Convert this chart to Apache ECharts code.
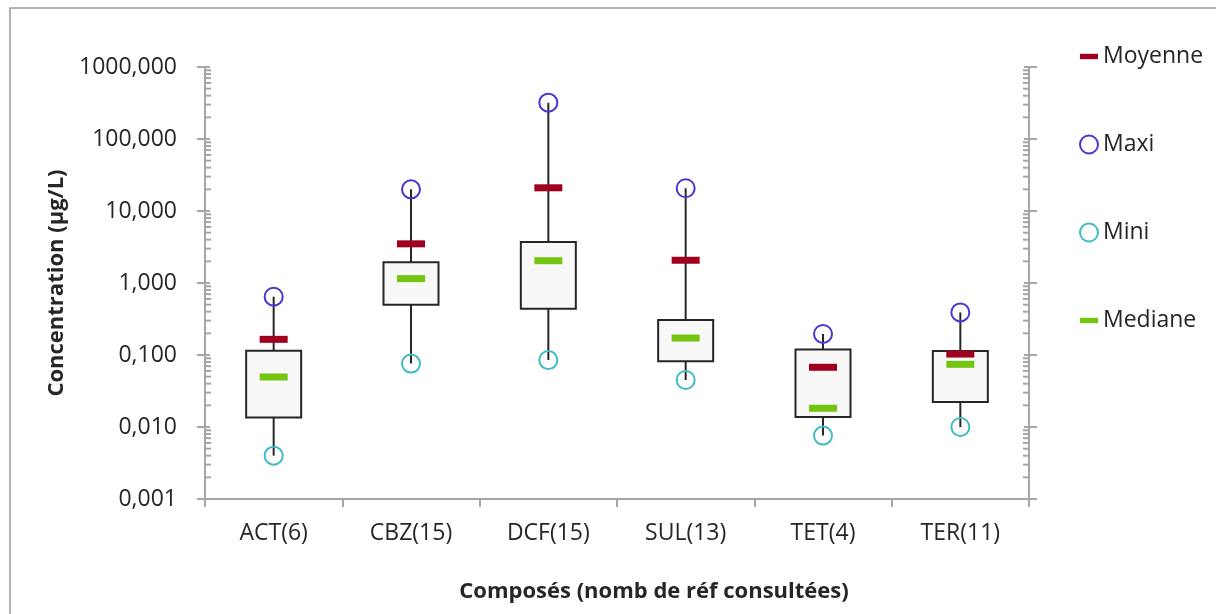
<!DOCTYPE html>
<html>
<head>
<meta charset="utf-8">
<script src="https://cdn.jsdelivr.net/npm/echarts@6/dist/echarts.min.js"></script>
<style>
html,body{margin:0;padding:0;background:#fff;}
#chart{width:1216px;height:614px;}
</style>
</head>
<body>
<div id="chart"></div>
<script>
// ---- data (µg/L) ----
var categories = ['ACT(6)', 'CBZ(15)', 'DCF(15)', 'SUL(13)', 'TET(4)', 'TER(11)'];
var maxi    = [0.645, 20,   320,  20.7,  0.196,  0.39];
var q3      = [0.115, 1.94, 3.71, 0.306, 0.119,  0.114];
var moyenne = [0.165, 3.5,  21,   2.07,  0.0675, 0.103];
var mediane = [0.0495,1.15, 2.04, 0.172, 0.0182, 0.0742];
var q1      = [0.0136,0.50, 0.44, 0.0817,0.0138, 0.0222];
var mini    = [0.0040,0.076,0.085,0.045, 0.0076, 0.0100];
// log axis minor tick multipliers and decades
var minorMultipliers = [2, 3, 4, 5, 6, 7, 8, 9];
var decades = [0.001, 0.01, 0.1, 1, 10, 100];
var majorTicks = [0.001, 0.01, 0.1, 1, 10, 100, 1000];

var FONT = '"Open Sans", "Noto Sans", sans-serif';
var AXIS_GREY = '#a6a6a6';
var TXT = '#262626';

var boxData = categories.map(function (c, i) { return [i, mini[i], q1[i], q3[i], maxi[i]]; });
var tickData = [];
decades.forEach(function (d) { minorMultipliers.forEach(function (m) { tickData.push([0, d * m, 0]); }); });
majorTicks.forEach(function (v) { tickData.push([0, v, 1]); });

function fmt(v) { return Number(v).toFixed(3).replace('.', ','); }

var chart = echarts.init(document.getElementById('chart'), null, {renderer: 'canvas'});
chart.setOption({
  animation: false,
  backgroundColor: '#fff',
  textStyle: {fontFamily: FONT},
  graphic: [{
    type: 'rect', silent: true, z: -1,
    shape: {x: 10, y: 8, width: 1400, height: 800},
    style: {fill: 'none', stroke: '#9a9a9a', lineWidth: 1.5}
  }],
  grid: {left: 205, right: 187, top: 67, bottom: 115},
  legend: {
    orient: 'vertical', left: 1074, top: 40,
    itemWidth: 18, itemHeight: 18, itemGap: 65,
    textStyle: {fontSize: 23, color: TXT, fontFamily: FONT},
    selectedMode: false,
    data: [
      {name: 'Moyenne', icon: 'path://M0,0h20v6h-20z', itemStyle: {color: '#a00020', borderWidth: 0, opacity: 1}},
      {name: 'Maxi', icon: 'circle', itemStyle: {color: 'rgba(0,0,0,0)', borderColor: '#4b35d3', borderWidth: 2, opacity: 1}},
      {name: 'Mini', icon: 'circle', itemStyle: {color: 'rgba(0,0,0,0)', borderColor: '#3dbcc4', borderWidth: 2, opacity: 1}},
      {name: 'Mediane', icon: 'path://M0,0h20v6h-20z', itemStyle: {color: '#74c512', borderWidth: 0, opacity: 1}}
    ]
  },
  xAxis: {
    type: 'category', data: categories, boundaryGap: true,
    axisLine: {lineStyle: {color: AXIS_GREY, width: 2}},
    axisTick: {show: true, length: 8, alignWithLabel: false, lineStyle: {color: AXIS_GREY, width: 2}},
    axisLabel: {fontSize: 23, color: TXT, margin: 23, fontFamily: FONT},
    name: 'Composés (nomb de réf consultées)', nameLocation: 'middle', nameGap: 82,
    nameTextStyle: {fontSize: 22, fontWeight: 'bold', color: TXT, fontFamily: FONT, padding: [0, 0, 0, 74]},
    splitLine: {show: false}
  },
  yAxis: [{
    type: 'log', logBase: 10, min: 0.001, max: 1000, position: 'left',
    axisLine: {show: true, lineStyle: {color: AXIS_GREY, width: 2}},
    axisTick: {show: true, length: 8, lineStyle: {color: AXIS_GREY, width: 2}},
    axisLabel: {fontSize: 23, color: TXT, margin: 28, formatter: fmt, fontFamily: FONT},
    splitLine: {show: false},
    name: 'Concentration (µg/L)', nameLocation: 'middle', nameGap: 136, nameRotate: 90,
    nameTextStyle: {fontSize: 22, fontWeight: 'bold', color: TXT, fontFamily: FONT}
  }, {
    type: 'log', logBase: 10, min: 0.001, max: 1000, position: 'right',
    axisLine: {show: true, lineStyle: {color: AXIS_GREY, width: 2}},
    axisTick: {show: true, length: 8, lineStyle: {color: AXIS_GREY, width: 2}},
    axisLabel: {show: false},
    splitLine: {show: false}
  }],
  series: [
    {
      name: 'ticks', type: 'custom', silent: true, z: 1,
      data: tickData, encode: {x: 0, y: 1},
      renderItem: function (params, api) {
        var cs = params.coordSys;
        var y = api.coord([0, api.value(1)])[1];
        var major = api.value(2) === 1;
        var len = major ? 5 : 6;
        var style = {stroke: AXIS_GREY, lineWidth: 2};
        return {type: 'group', children: [
          {type: 'line', shape: {x1: cs.x, y1: y, x2: cs.x + len, y2: y}, style: style},
          {type: 'line', shape: {x1: cs.x + cs.width - len, y1: y, x2: cs.x + cs.width, y2: y}, style: style}
        ]};
      }
    },
    {
      name: 'box', type: 'custom', silent: true, z: 2,
      data: boxData, encode: {x: 0, y: [1, 2, 3, 4]},
      renderItem: function (params, api) {
        var i = api.value(0);
        var pMin = api.coord([i, api.value(1)]);
        var pQ1 = api.coord([i, api.value(2)]);
        var pQ3 = api.coord([i, api.value(3)]);
        var pMax = api.coord([i, api.value(4)]);
        var w = 55;
        var line = {stroke: '#262626', lineWidth: 2};
        return {type: 'group', children: [
          {type: 'line', shape: {x1: pMin[0], y1: pMin[1], x2: pMax[0], y2: pMax[1]}, style: line},
          {type: 'rect', shape: {x: pQ3[0] - w / 2, y: pQ3[1], width: w, height: pQ1[1] - pQ3[1]},
           style: {fill: '#f8f8f8', stroke: '#262626', lineWidth: 2}}
        ]};
      }
    },
    {
      name: 'Moyenne', type: 'scatter', z: 5, symbol: 'rect', symbolSize: [28, 7],
      itemStyle: {color: '#a00020', opacity: 1}, data: moyenne
    },
    {
      name: 'Maxi', type: 'scatter', z: 5, symbol: 'circle', symbolSize: 18,
      itemStyle: {color: 'rgba(0,0,0,0)', borderColor: '#4b35d3', borderWidth: 2, opacity: 1}, data: maxi
    },
    {
      name: 'Mini', type: 'scatter', z: 5, symbol: 'circle', symbolSize: 18,
      itemStyle: {color: 'rgba(0,0,0,0)', borderColor: '#3dbcc4', borderWidth: 2, opacity: 1}, data: mini
    },
    {
      name: 'Mediane', type: 'scatter', z: 5, symbol: 'rect', symbolSize: [28, 7],
      itemStyle: {color: '#74c512', opacity: 1}, data: mediane
    }
  ]
});
</script>
</body>
</html>
